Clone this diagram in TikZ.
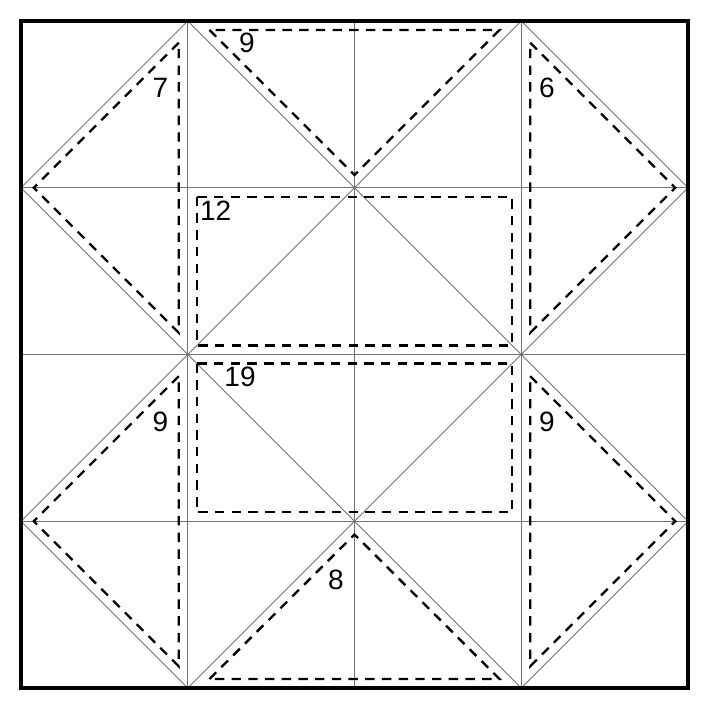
\documentclass[tikz,border=0pt]{standalone}
\usepackage{fontspec}
\setmainfont{Liberation Sans}
\begin{document}
\begin{tikzpicture}[x=1pt,y=-1pt,
  crease/.style={draw=black!55,line width=0.9pt},
  fold/.style={draw=black,line width=2.4pt,dash pattern=on 9.4pt off 7.3pt,miter limit=10},
  frame/.style={draw=black,line width=4pt},
  num/.style={font=\fontsize{28}{30}\selectfont,inner sep=0pt,anchor=base}]
\useasboundingbox (0,0) rectangle (708,708);
\foreach \i in {0,...,4}{
  \foreach \j in {0,...,4}{
    \coordinate (g\i\j) at ({21+166.75*\i},{21+166.75*\j});
  }
}
% grid creases
\draw[crease] (g10)--(g14) (g20)--(g24) (g30)--(g34);
\draw[crease] (g01)--(g41) (g02)--(g42) (g03)--(g43);
% diagonal creases
\draw[crease] (g10)--(g01)--(g12)--(g03)--(g14);
\draw[crease] (g30)--(g41)--(g32)--(g43)--(g34);
\draw[crease] (g10)--(g21)--(g30);
\draw[crease] (g14)--(g23)--(g34);
\draw[crease] (g12)--(g21)--(g32)--(g23)--cycle;
% dashed folds
\draw[fold] (178.75,42.73)--(33.73,187.75)--(178.75,332.77)--cycle;
\draw[fold] (178.75,376.23)--(33.73,521.25)--(178.75,666.27)--cycle;
\draw[fold] (530.25,42.73)--(675.27,187.75)--(530.25,332.77)--cycle;
\draw[fold] (530.25,376.23)--(675.27,521.25)--(530.25,666.27)--cycle;
\draw[fold] (209.48,30)--(354.5,175.02)--(499.52,30)--cycle;
\draw[fold] (209.48,679)--(354.5,534.48)--(499.52,679)--cycle;
\draw[fold] (196.75,196.75) rectangle (512.25,345.5);
\draw[fold] (196.75,363.5) rectangle (512.25,512.25);
% outer frame
\draw[frame] (g00) rectangle (g44);
% labels
\node[num] (n7)  at (160.5,98) {7};
\node[num] (n9t) at (247,53) {9};
\node[num] (n6)  at (547,98) {6};
\node[num] (n12) at (215.7,221) {12};
\node[num] (n19) at (240,386.7) {19};
\node[num] (n9l) at (160.5,431.7) {9};
\node[num] (n9r) at (547,431.7) {9};
\node[num] (n8)  at (336,589) {8};
\end{tikzpicture}
\end{document}
